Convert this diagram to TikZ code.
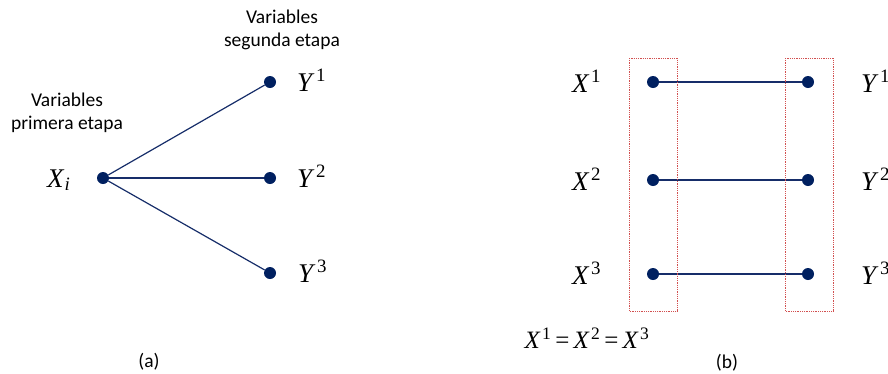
\documentclass[tikz,border=0pt]{standalone}
\usepackage{fontspec}
\setmainfont{Carlito}
\newfontfamily\tms{Liberation Serif}
\usepackage{tikz}
\usetikzlibrary{calc}
\definecolor{dotnavy}{RGB}{0, 32, 96}
\definecolor{linknavy}{RGB}{22, 45, 105}
\definecolor{boxred}{RGB}{210, 80, 80}

% stage variable with upper index
\newcommand{\sv}[2]{{\tms\itshape #1\/}{\tms\kern1.5pt\textsuperscript{#2}}}

\begin{document}
\begin{tikzpicture}[
    x=1pt, y=-1pt,
    every node/.style={inner sep=0pt},
    dot/.style={circle, fill=dotnavy, minimum size=12pt},
    link/.style={draw=linknavy, line width=1.2pt},
    var/.style={anchor=base west, font=\fontsize{27}{30}\selectfont},
    caption/.style={align=center, font=\fontsize{19.5}{23}\selectfont},
    selbox/.style={draw=boxred, line width=1pt, dash pattern=on 1pt off 0.8pt}
]
\useasboundingbox (0,0) rectangle (888,373);

% (a) two-stage tree
\node[dot] (xi) at (103,178) {};
\node[dot] (ya1) at (270,82) {};
\node[dot] (ya2) at (270,178) {};
\node[dot] (ya3) at (270,273) {};

\node[var] (xilab) at (47,187) {{\tms\itshape X\textsubscript{\kern1pt i}}};
\node[var] (ya1lab) at (297,91) {\sv{Y}{1}};
\node[var] (ya2lab) at (297,187) {\sv{Y}{2}};
\node[var] (ya3lab) at (298,282) {\sv{Y}{3}};

\node[caption] (first) at (67,113) {Variables\\primera etapa};
\node[caption] (second) at (282,30) {Variables\\segunda etapa};
\node[caption] (capa) at (149,362) {(a)};

\draw[link] (xi) -- (ya1);
\draw[link] (xi) -- (ya2);
\draw[link] (xi) -- (ya3);

% (b) scenario copies
\foreach \k/\y in {1/82, 2/180, 3/274} {
  \node[dot] (xb\k) at (653,\y) {};
  \node[dot] (yb\k) at (808,\y) {};
  \node[var] (xb\k lab) at (572,\y+10) {\sv{X}{\k}};
  \node[var] (yb\k lab) at (861,\y+10) {\sv{Y}{\k}};
  \draw[link] (xb\k) -- (yb\k);
}

\draw[selbox] ($(xb1)+(-24,-24)$) rectangle ($(xb3)+(24,37)$);
\draw[selbox] ($(yb1)+(-23,-24)$) rectangle ($(yb3)+(25,37)$);

\node[var, anchor=center, font=\fontsize{25}{28}\selectfont] (nonanti) at (587,338)
  {\sv{X}{1}{\tms\kern4pt=\kern4pt}\sv{X}{2}{\tms\kern4pt=\kern4pt}\sv{X}{3}};
\node[caption] (capb) at (727,363) {(b)};

\end{tikzpicture}
\end{document}
